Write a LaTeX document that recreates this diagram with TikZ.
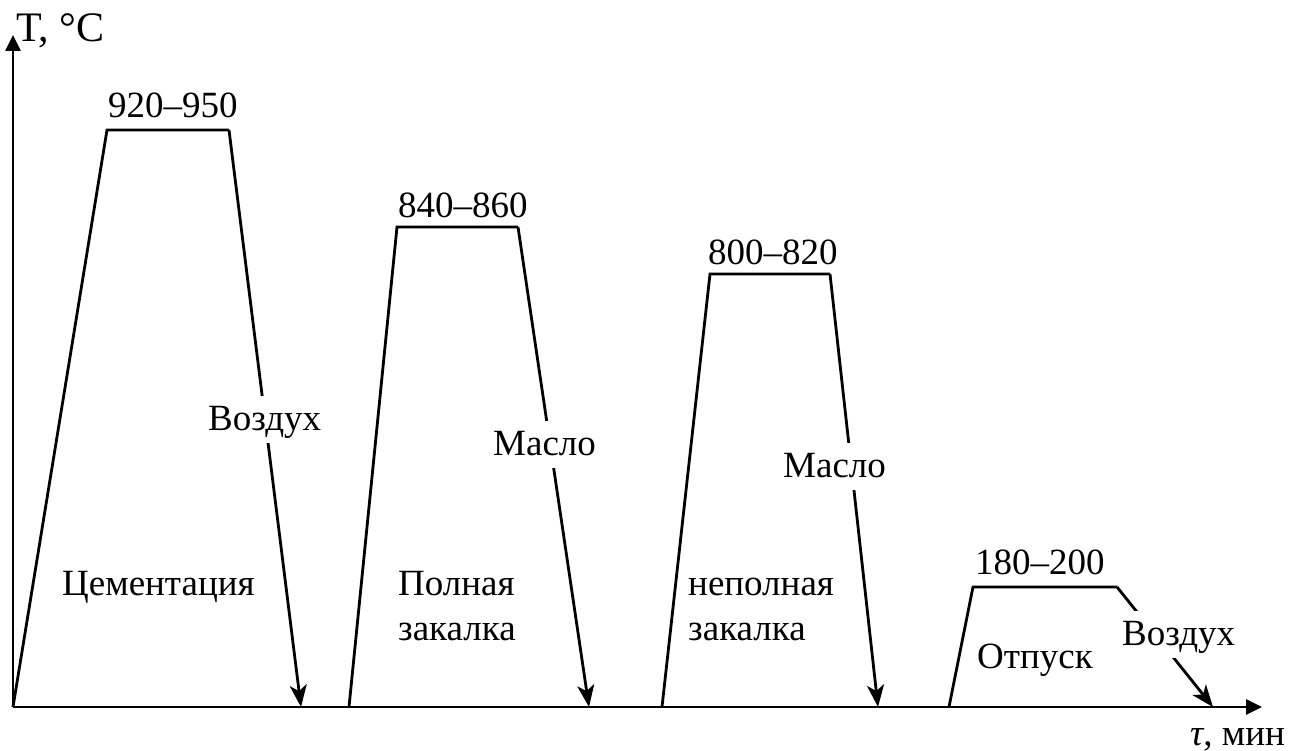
\documentclass[tikz,border=0pt]{standalone}
\usepackage{fontspec}
\setmainfont{Liberation Serif}
\usetikzlibrary{arrows.meta}
\begin{document}
\begin{tikzpicture}[x=1pt,y=-1pt,
  lbl/.style={anchor=base west,inner sep=0pt,font=\fontsize{37}{44}\selectfont},
  cut/.style={lbl,fill=white,text height=31pt,text depth=10pt,inner sep=3pt},
  axis/.style={line width=2.6pt,-{Triangle[length=16pt,width=15pt]}},
  curve/.style={line width=2.8pt,line join=miter},
  cool/.style={curve,-{Stealth[length=22pt,width=17pt,inset=6pt]}}]
\useasboundingbox (0,0) rectangle (1291,751);

% axes
\coordinate (O) at (13,707);
\coordinate (Ytop) at (13,35);
\coordinate (Xend) at (1262,707);
\draw[axis] (O) -- (Ytop);
\draw[axis] (O) -- (Xend);
\node[lbl,font=\fontsize{42}{48}\selectfont] (ylab) at (16,42) {T, °C};
\node[lbl] (xlab) at (1190,745) {\textit{τ}, мин};

% carburizing
\coordinate (a0) at (13,707);
\coordinate (a1) at (107,130);
\coordinate (a2) at (229,130);
\coordinate (a3) at (301,707);
\draw[curve] (a0) -- (a1) -- (a2);
\draw[cool] (a2) -- (a3);

% full quench
\coordinate (b0) at (349,707);
\coordinate (b1) at (397,227);
\coordinate (b2) at (518,227);
\coordinate (b3) at (589,707);
\draw[curve] (b0) -- (b1) -- (b2);
\draw[cool] (b2) -- (b3);

% partial quench
\coordinate (c0) at (662,707);
\coordinate (c1) at (710,274);
\coordinate (c2) at (830,274);
\coordinate (c3) at (878,707);
\draw[curve] (c0) -- (c1) -- (c2);
\draw[cool] (c2) -- (c3);

% tempering
\coordinate (d0) at (949,707);
\coordinate (d1) at (973,587);
\coordinate (d2) at (1117,587);
\coordinate (d3) at (1213,707);
\draw[curve] (d0) -- (d1) -- (d2);
\draw[cool] (d2) -- (d3);

% temperatures
\node[lbl] (t1) at (108,118) {920–950};
\node[lbl] (t2) at (398,218) {840–860};
\node[lbl] (t3) at (708,265) {800–820};
\node[lbl] (t4) at (975,574) {180–200};

% cooling media (white boxes break the lines behind them)
\node[cut] (m1) at (205,430) {Воздух};
\node[cut] (m2) at (490,455) {Масло};
\node[cut] (m3) at (780,477) {Масло};
\node[cut] (m4) at (1119,645) {Воздух};

% process names
\node[lbl] (p1) at (62,595) {Цементация};
\node[lbl] (p2) at (398,595) {Полная};
\node[lbl] (p2b) at (398,640) {закалка};
\node[lbl] (p3) at (688,595) {неполная};
\node[lbl] (p3b) at (688,640) {закалка};
\node[lbl] (p4) at (977,668) {Отпуск};
\end{tikzpicture}
\end{document}
